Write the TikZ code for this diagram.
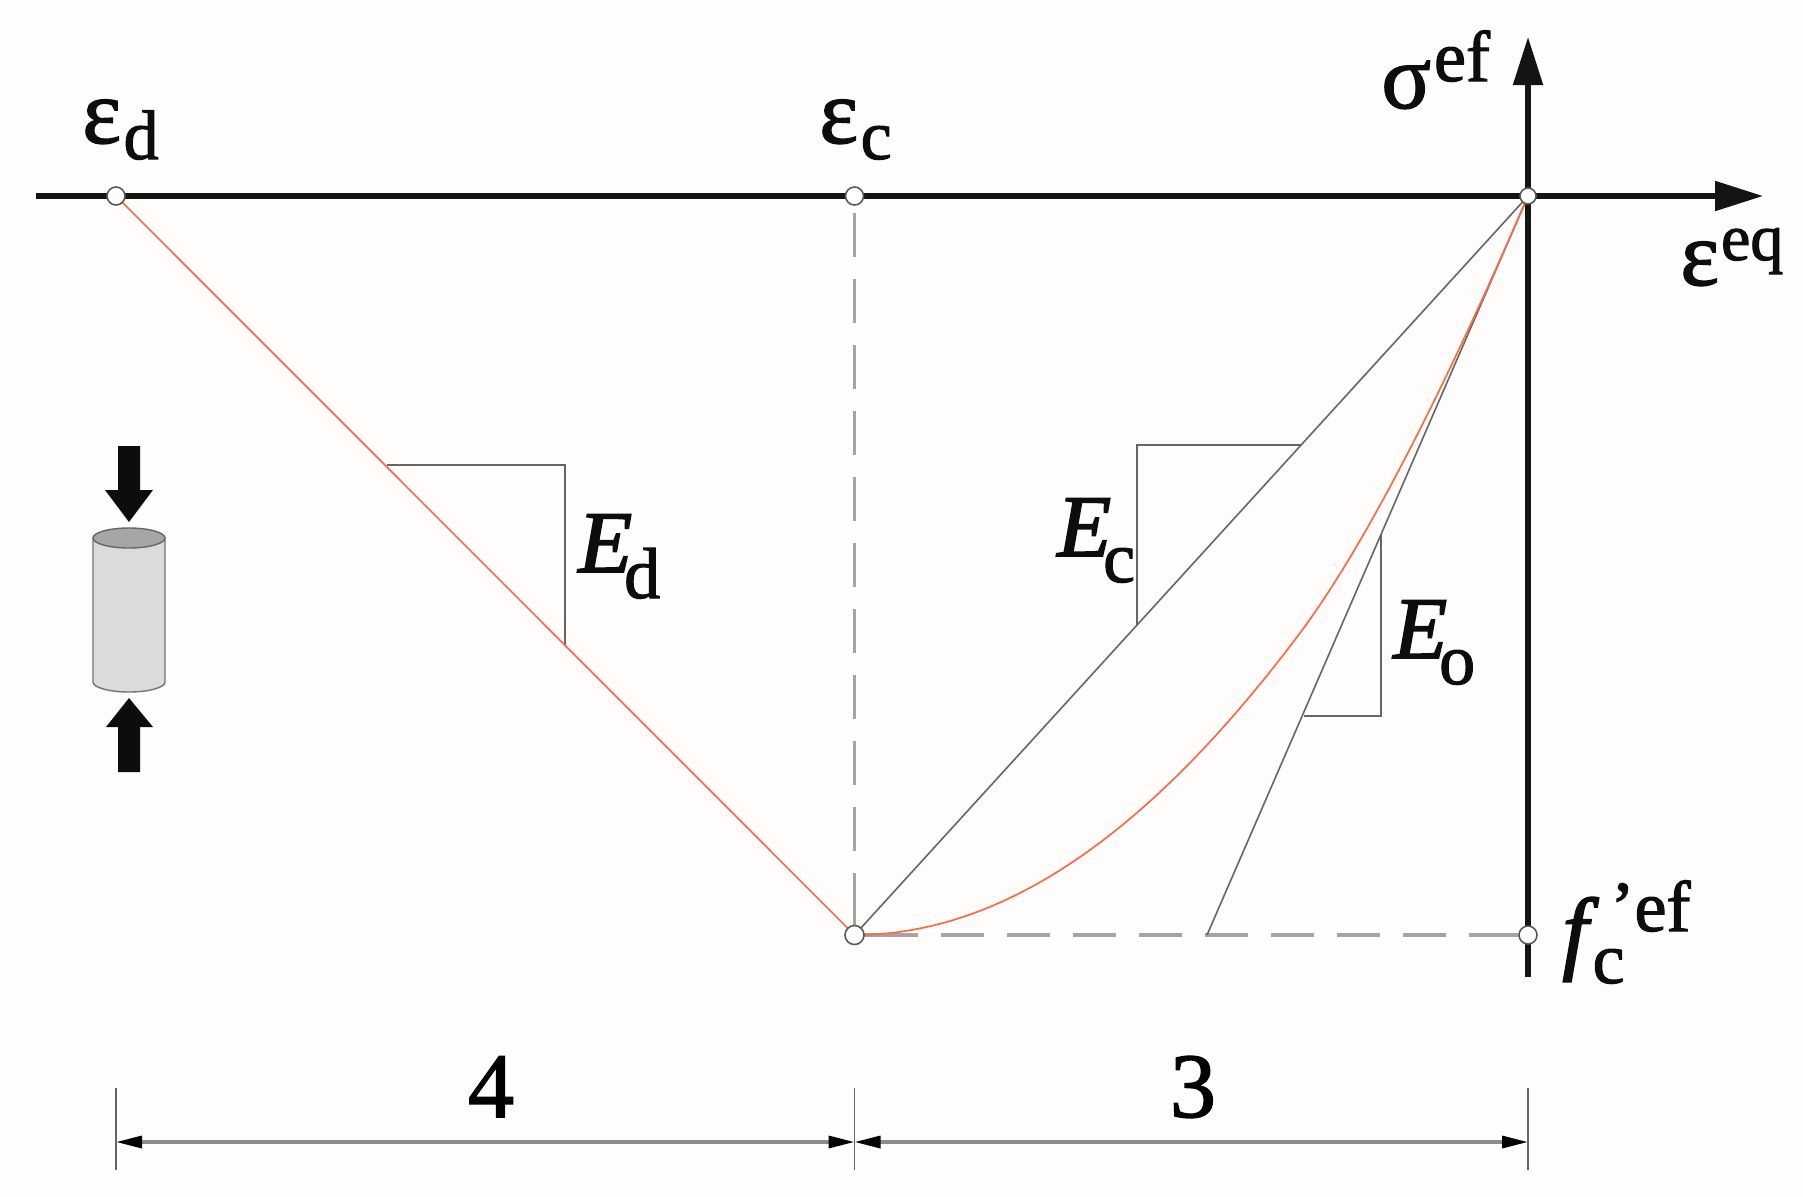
\documentclass[tikz,border=0pt]{standalone}
\usepackage{fontspec}
\setmainfont{Liberation Serif}
\newfontfamily\heavy[FakeBold=1.6,ItalicFeatures={FakeBold=2}]{Liberation Serif}
\usetikzlibrary{arrows.meta,calc}
\definecolor{paper}{HTML}{FEFDFC}
\definecolor{redline}{HTML}{FF6A45}
\definecolor{thinc}{HTML}{666666}
\definecolor{dashc}{HTML}{A4A4A4}
\definecolor{dimc}{HTML}{8C8C8C}
\newcommand\bigf{\fontsize{46}{46}\selectfont\heavy}
\newcommand\smf{\fontsize{36}{36}\selectfont\heavy}
\newcommand\smg{\fontsize{33}{33}\selectfont\heavy}
\newcommand\lowr[2]{\raisebox{-#1}{\smf #2}}
\newcommand\upr[2]{\raisebox{#1}{\smf #2}}
\tikzset{
  axisline/.style={line width=2.6pt,black!92,-{Triangle[length=24pt,width=14.5pt]}},
  thinline/.style={line width=.8pt,thinc},
  redcurve/.style={line width=.85pt,redline},
  dashline/.style={line width=1.8pt,dashc},
  dimline/.style={line width=1.7pt,dimc,{Triangle[length=13pt,width=6pt,color=black]}-{Triangle[length=13pt,width=6pt,color=black]}},
  extline/.style={line width=.7pt,thinc},
  dotnode/.style={circle,draw=black!65,line width=.8pt,fill=white,inner sep=0pt,minimum size=9pt},
  lab/.style={inner sep=0pt,anchor=base west,text=black!95},
  blockarrow/.style={fill=black!95,draw=none},
}
\begin{document}
\begin{tikzpicture}[x=.5pt,y=-.5pt]
\useasboundingbox[fill=paper] (0,0) rectangle (1803,1196);
% key points
\coordinate (O) at (1528,196);
\coordinate (Cx) at (854.5,196);
\coordinate (Dx) at (116,196);
\coordinate (B) at (854.5,935);
\coordinate (F) at (1528,935);
\coordinate (xL) at (36,196);
\coordinate (xR) at (1763,196);
\coordinate (yT) at (1528,37);
\coordinate (yB) at (1528,977);
\coordinate (Eo0) at (1207,935);
% dashed guides
\draw[dashline,dash pattern=on 21.5pt off 11.5pt,dash phase=22.75pt] (B) -- (F);
\draw[dashline] (B) -- (875,935);
\draw[dashline] (1471,935) -- (F);
\draw[dashline] (B) -- (854.5,873);
\draw[dashline,dash pattern=on 22pt off 11pt] (854.5,851) -- (Cx);
% axes
\draw[axisline] (xL) -- (xR);
\draw[axisline] (yB) -- (yT);
% thin lines
\draw[thinline] (B) -- (O);
\draw[thinline] (Eo0) -- (O);
\draw[thinline] (387,465) -- (565,465) -- (565,645);
\draw[thinline] (1301,445) -- (1137,445) -- (1137,625);
\draw[thinline] (1381,535) -- (1381,716) -- (1304,716);
% red
\draw[redcurve] (Dx) -- (B);
\draw[redcurve] (B) .. controls (1030,935) and (1180,793) .. (1300,633) .. controls (1362,550) and (1440,400) .. (O);
% dots
\node[dotnode] (nD) at (Dx) {};
\node[dotnode] (nC) at (Cx) {};
\node[dotnode,minimum size=8pt] (nO) at (O) {};
\node[dotnode,minimum size=9.5pt] (nB) at (B) {};
\node[dotnode] (nF) at (F) {};
% labels
\node[lab] (ld) at (82,143) {\bigf ε\raisebox{-8pt}{\fontsize{35}{35}\selectfont\heavy\kern1.3pt d}};
\node[lab] (lc) at (819,143) {\bigf ε\raisebox{-8pt}{\fontsize{35}{35}\selectfont\heavy\kern1.3pt c}};
\node[lab] (ls) at (1381,108) {\bigf σ\upr{13.5pt}{\kern1.5pt ef}};
\node[lab] (le) at (1680,285) {\bigf ε\raisebox{12.5pt}{\smg\kern1pt eq}};
\node[lab] (lEd) at (578,572) {\fontsize{44}{44}\selectfont\heavy\textit{E}\lowr{13pt}{\kern-4pt d}};
\node[lab] (lEc) at (1057,556) {\fontsize{44}{44}\selectfont\heavy\textit{E}\lowr{13pt}{\kern-4pt c}};
\node[lab] (lEo) at (1393,658) {\fontsize{44}{44}\selectfont\heavy\textit{E}\lowr{13pt}{\kern-4pt o}};
\node[lab] (lf) at (1562,962) {\bigf\textit{f}\rlap{\lowr{10.5pt}{\kern-3pt c}}\upr{15.5pt}{\kern6pt ’ef}};
% dimensions
\coordinate (d1) at (116,1142);
\coordinate (d2) at (854.5,1142);
\coordinate (d3) at (1528,1142);
\draw[dimline] (d1) -- (d2);
\draw[dimline] (d2) -- (d3);
\draw[extline] (116,1088) -- (116,1170);
\draw[extline] (854.5,1088) -- (854.5,1170);
\draw[extline] (1528,1088) -- (1528,1170);
\node[inner sep=0pt,anchor=base] (n4) at (491,1117) {\bigf 4};
\node[inner sep=0pt,anchor=base] (n3) at (1193,1117) {\bigf 3};
% specimen
\draw[fill=black!14,draw=black!55,line width=.7pt] (93,538) -- (93,682) arc[start angle=180,end angle=0,x radius=36,y radius=10] -- (165,538) -- cycle;
\draw[fill=black!35,draw=black!60,line width=.7pt] (129,538) ellipse[x radius=36,y radius=10];
\fill[blockarrow] (118,446) -- (140,446) -- (140,490) -- (153,490) -- (129,522) -- (105,490) -- (118,490) -- cycle;
\fill[blockarrow] (118,772) -- (140,772) -- (140,727) -- (153,727) -- (129,698) -- (106,727) -- (118,727) -- cycle;
\end{tikzpicture}
\end{document}
